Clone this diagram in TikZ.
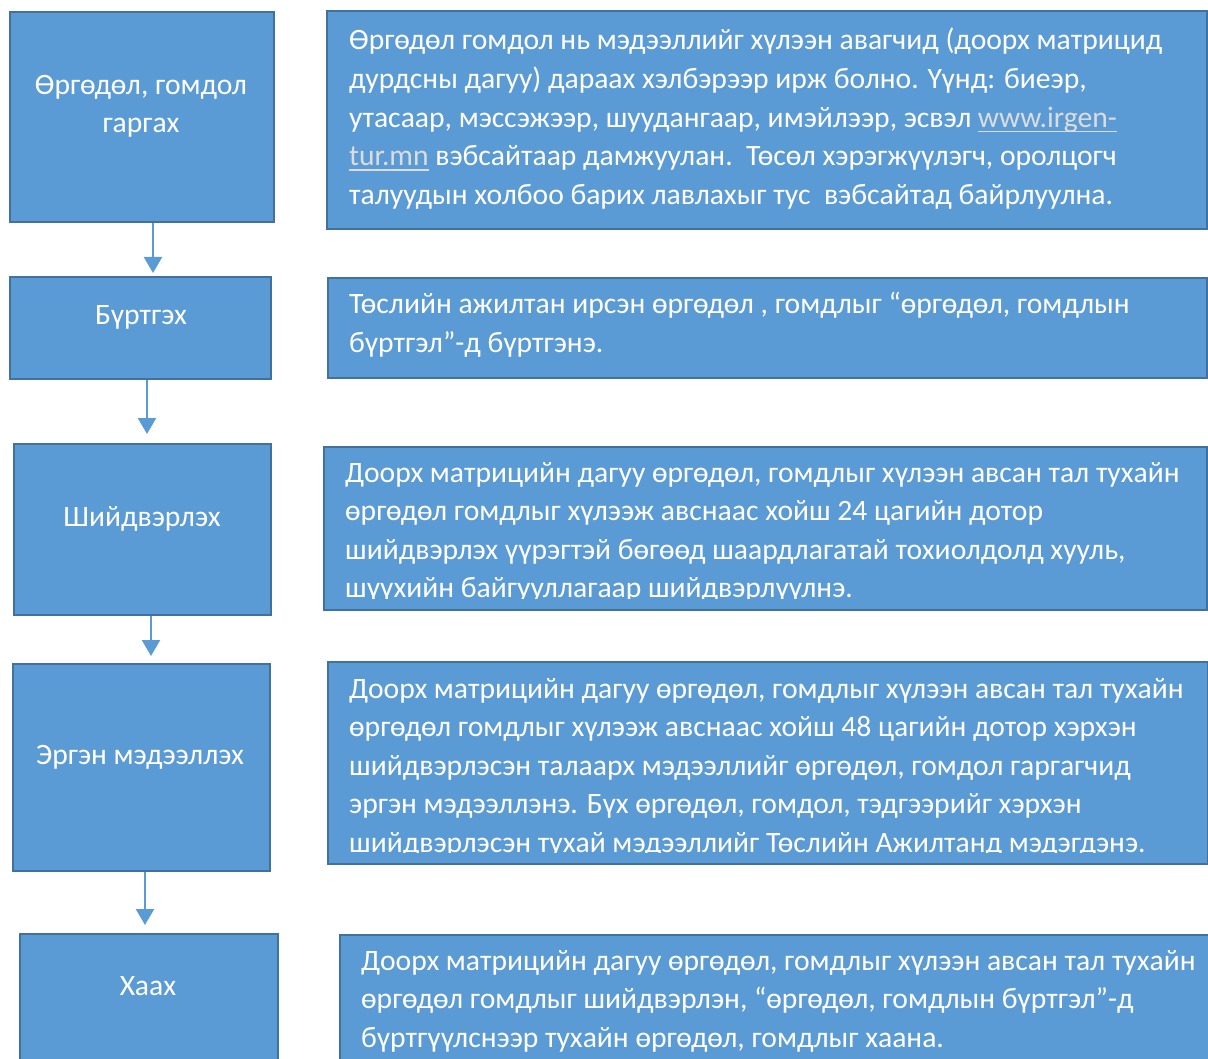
\documentclass[tikz,border=0pt]{standalone}
\usepackage{fontspec}
\setmainfont{Carlito}
\usetikzlibrary{arrows.meta}
\definecolor{boxfill}{HTML}{5B9BD5}
\definecolor{boxline}{HTML}{41719C}
\definecolor{linkc}{HTML}{DCDCDC}
\newcommand\lnk[1]{{\color{linkc}\setbox0\hbox{#1}\rlap{\rule[-5pt]{\wd0}{1.4pt}}\box0}}
\begin{document}
\begin{tikzpicture}[x=1pt,y=-1pt,
  box/.style={draw=boxline, fill=boxfill, line width=2pt, rectangle, inner sep=0pt, anchor=north west},
  lt/.style={text=white, font=\fontsize{29.6}{38}\selectfont, inner sep=0pt, anchor=base},
  rt/.style={text=white, font=\fontsize{29.6}{38}\selectfont, inner sep=0pt, anchor=base west},
  arr/.style={draw=boxfill, line width=2.4pt, -{Triangle[width=18pt,length=16pt]}}]
\clip (0,0) rectangle (1208,1059);
\fill[white] (0,0) rectangle (1208,1059);
% left boxes
\node[box, minimum width=264pt, minimum height=210pt] (L1) at (9,11) {};
\node[box, minimum width=261pt, minimum height=102pt] (L2) at (9,276) {};
\node[box, minimum width=257pt, minimum height=171pt] (L3) at (13,443) {};
\node[box, minimum width=257pt, minimum height=207pt] (L4) at (12,663) {};
\node[box, minimum width=258pt, minimum height=160pt] (L5) at (19,933) {};
% right boxes
\node[box, minimum width=880pt, minimum height=218pt] (R1) at (326,10) {};
\node[box, minimum width=879pt, minimum height=100pt] (R2) at (327,277) {};
\node[box, minimum width=883pt, minimum height=163pt] (R3) at (323,446) {};
\node[box, minimum width=880pt, minimum height=202pt] (R4) at (327,661) {};
\node[box, minimum width=870pt, minimum height=160pt] (R5) at (339,934) {};
% left labels
\node[lt] (l1a) at (141,95) {Өргөдөл, гомдол};
\node[lt] (l1b) at (141,133) {гаргах};
\node[lt] (l2) at (141,325) {Бүртгэх};
\node[lt] (l3) at (142,526) {Шийдвэрлэх};
\node[lt] (l4) at (140,764) {Эргэн мэдээллэх};
\node[lt] (l5) at (148,995) {Хаах};
% right texts
\node[rt] (r1a) at (349,50) {Өргөдөл гомдол нь мэдээллийг хүлээн авагчид (доорх матрицид};
\node[rt] (r1b) at (349,88.6) {дурдсны дагуу) дараах хэлбэрээр ирж болно. Үүнд: биеэр,};
\node[rt] (r1c) at (349,127.2) {утасаар, мэссэжээр, шуудангаар, имэйлээр, эсвэл \lnk{www.irgen-}};
\node[rt] (r1d) at (349,165.8) {\lnk{tur.mn} вэбсайтаар дамжуулан.\ \ Төсөл хэрэгжүүлэгч, оролцогч};
\node[rt] (r1e) at (349,204.4) {талуудын холбоо барих лавлахыг тус\ \ вэбсайтад байрлуулна.};
\node[rt] (r2a) at (349,314) {Төслийн ажилтан ирсэн өргөдөл , гомдлыг “өргөдөл, гомдлын};
\node[rt] (r2b) at (349,352.6) {бүртгэл”-д бүртгэнэ.};
\begin{scope}
\clip (323,446) rectangle (1206,598.5);
\node[rt] (r3a) at (345,482) {Доорх матрицийн дагуу өргөдөл, гомдлыг хүлээн авсан тал тухайн};
\node[rt] (r3b) at (345,520.6) {өргөдөл гомдлыг хүлээж авснаас хойш 24 цагийн дотор};
\node[rt] (r3c) at (345,559.2) {шийдвэрлэх үүрэгтэй бөгөөд шаардлагатай тохиолдолд хууль,};
\node[rt] (r3d) at (345,597.8) {шүүхийн байгууллагаар шийдвэрлүүлнэ.};
\end{scope}
\begin{scope}
\clip (327,661) rectangle (1206,852.5);
\node[rt] (r4a) at (349,698) {Доорх матрицийн дагуу өргөдөл, гомдлыг хүлээн авсан тал тухайн};
\node[rt] (r4b) at (349,736.6) {өргөдөл гомдлыг хүлээж авснаас хойш 48 цагийн дотор хэрхэн};
\node[rt] (r4c) at (349,775.2) {шийдвэрлэсэн талаарх мэдээллийг өргөдөл, гомдол гаргагчид};
\node[rt] (r4d) at (349,813.8) {эргэн мэдээллэнэ. Бүх өргөдөл, гомдол, тэдгээрийг хэрхэн};
\node[rt] (r4e) at (349,852.4) {шийдвэрлэсэн тухай мэдээллийг Төслийн Ажилтанд мэдэгдэнэ.};
\end{scope}
\node[rt] (r5a) at (361,970) {Доорх матрицийн дагуу өргөдөл, гомдлыг хүлээн авсан тал тухайн};
\node[rt] (r5b) at (361,1008.6) {өргөдөл гомдлыг шийдвэрлэн, “өргөдөл, гомдлын бүртгэл”-д};
\node[rt] (r5c) at (361,1047.2) {бүртгүүлснээр тухайн өргөдөл, гомдлыг хаана.};
% arrows
\draw[arr] ([xshift=11pt]L1.south) -- ([xshift=11pt,yshift=3pt]L1.south |- L2.north);
\draw[arr] ([xshift=6.5pt]L2.south) -- ([xshift=6.5pt,yshift=9pt]L2.south |- L3.north);
\draw[arr] ([xshift=8.5pt]L3.south) -- ([xshift=8.5pt,yshift=7pt]L3.south |- L4.north);
\draw[arr] ([xshift=3.5pt]L4.south) -- ([xshift=3.5pt,yshift=8pt]L4.south |- L5.north);
\end{tikzpicture}
\end{document}
